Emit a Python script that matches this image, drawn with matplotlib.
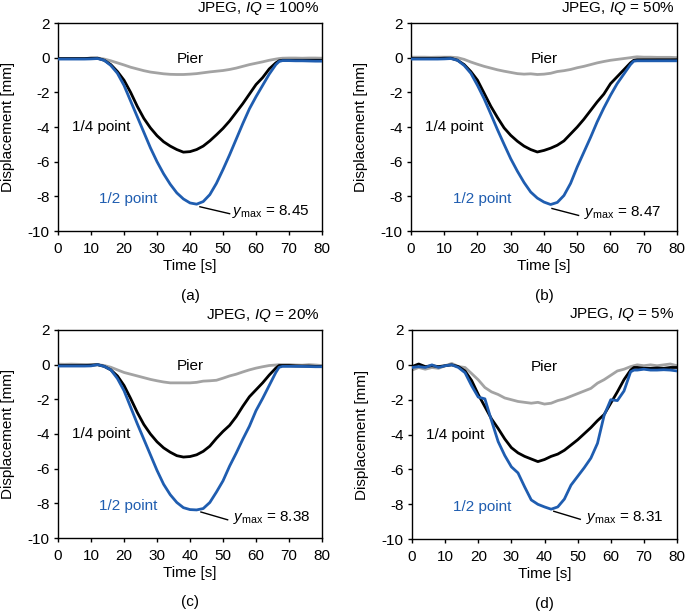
import numpy as np
import matplotlib
matplotlib.use("Agg")
import matplotlib.pyplot as plt

plt.rcParams['font.family'] = ['Liberation Sans', 'DejaVu Sans']
plt.rcParams['mathtext.fontset'] = 'custom'
plt.rcParams['mathtext.rm'] = 'Liberation Sans'
plt.rcParams['mathtext.it'] = 'Liberation Sans:italic'
plt.rcParams['font.size'] = 11

# time axis shared by all curves [s]
t = [0, 2, 4, 6, 8, 10, 12, 14, 16, 18, 20, 22, 24, 26, 28, 30, 32, 34, 36, 38, 40,
     42, 44, 46, 48, 50, 52, 54, 56, 58, 60, 62, 64, 66, 67, 68, 70, 72, 74, 76, 78, 80]

# (a) IQ = 100%
pier_a = [-0.05, -0.05, -0.05, -0.05, -0.05, -0.03, -0.02, -0.08, -0.18, -0.3, -0.42, -0.55,
          -0.65, -0.75, -0.83, -0.88, -0.93, -0.96, -0.97, -0.97, -0.95, -0.92, -0.87, -0.82,
          -0.78, -0.74, -0.68, -0.6, -0.5, -0.4, -0.32, -0.24, -0.15, -0.08, -0.05, -0.03,
          -0.02, -0.02, -0.03, -0.02, -0.02, -0.03]
quarter_a = [-0.05, -0.05, -0.05, -0.05, -0.05, -0.03, -0.03, -0.15, -0.4, -0.8, -1.3, -2.0,
             -2.8, -3.5, -4.05, -4.5, -4.85, -5.1, -5.3, -5.45, -5.42, -5.3, -5.1, -4.8, -4.45,
             -4.08, -3.65, -3.15, -2.65, -2.1, -1.55, -1.15, -0.65, -0.3, -0.18, -0.15, -0.15,
             -0.15, -0.15, -0.15, -0.15, -0.15]
half_a = [-0.08, -0.08, -0.08, -0.08, -0.08, -0.07, -0.05, -0.15, -0.45, -0.9, -1.6, -2.5,
          -3.4, -4.3, -5.2, -6.0, -6.7, -7.3, -7.8, -8.15, -8.38, -8.45, -8.3, -7.9, -7.25,
          -6.45, -5.6, -4.7, -3.8, -2.95, -2.25, -1.6, -0.95, -0.4, -0.22, -0.17, -0.17,
          -0.18, -0.18, -0.19, -0.2, -0.2]

# (b) IQ = 50%
pier_b = [0.03, 0.03, 0.03, 0.02, 0.03, 0.03, 0.03, 0.0, -0.1, -0.25, -0.38, -0.5, -0.6,
          -0.7, -0.78, -0.85, -0.92, -0.95, -0.93, -0.97, -0.95, -0.9, -0.8, -0.75, -0.68,
          -0.58, -0.5, -0.4, -0.3, -0.22, -0.15, -0.1, -0.05, 0.0, 0.03, 0.05, 0.03, 0.03,
          0.02, 0.02, 0.02, 0.0]
quarter_b = [-0.05, -0.05, -0.05, -0.05, -0.05, -0.03, -0.03, -0.15, -0.4, -0.8, -1.3, -2.05,
             -2.8, -3.45, -4.05, -4.48, -4.82, -5.1, -5.3, -5.44, -5.35, -5.22, -5.05, -4.8,
             -4.4, -4.0, -3.55, -3.05, -2.55, -2.1, -1.5, -1.1, -0.7, -0.3, -0.15, -0.12,
             -0.12, -0.12, -0.12, -0.12, -0.12, -0.12]
half_b = [-0.08, -0.08, -0.08, -0.08, -0.08, -0.07, -0.05, -0.15, -0.45, -0.9, -1.6, -2.37,
          -3.25, -4.15, -5.0, -5.83, -6.55, -7.2, -7.75, -8.1, -8.33, -8.47, -8.35, -7.95,
          -7.25, -6.3, -5.45, -4.6, -3.7, -2.9, -2.17, -1.5, -0.95, -0.4, -0.2, -0.18,
          -0.18, -0.18, -0.18, -0.18, -0.18, -0.18]

# (c) IQ = 20%
pier_c = [0.03, 0.02, 0.03, 0.02, 0.01, 0.0, 0.0, -0.05, -0.15, -0.3, -0.45, -0.55, -0.65,
          -0.75, -0.85, -0.93, -1.0, -1.05, -1.05, -1.05, -1.05, -1.02, -0.95, -0.93, -0.9,
          -0.78, -0.65, -0.55, -0.42, -0.3, -0.2, -0.12, -0.05, -0.02, 0.0, 0.0, 0.0, -0.02,
          -0.03, 0.0, -0.02, -0.05]
quarter_c = [-0.05, -0.05, -0.05, -0.05, -0.05, -0.03, 0.0, -0.1, -0.3, -0.65, -1.2, -1.95,
             -2.75, -3.45, -4.0, -4.45, -4.8, -5.05, -5.25, -5.33, -5.3, -5.2, -5.0, -4.7,
             -4.25, -3.85, -3.5, -3.0, -2.4, -1.85, -1.45, -1.05, -0.6, -0.2, -0.05, -0.05,
             -0.05, -0.07, -0.08, -0.08, -0.1, -0.1]
half_c = [-0.08, -0.08, -0.08, -0.08, -0.08, -0.07, 0.0, -0.1, -0.3, -0.8, -1.5, -2.45,
          -3.4, -4.3, -5.2, -6.1, -6.9, -7.5, -7.95, -8.25, -8.36, -8.38, -8.3, -7.95, -7.35,
          -6.7, -5.85, -5.1, -4.3, -3.55, -2.65, -1.95, -1.2, -0.45, -0.15, -0.1, -0.1, -0.1,
          -0.1, -0.11, -0.12, -0.12]

# (d) IQ = 5%
pier_d = [-0.3, -0.15, -0.25, -0.15, -0.2, -0.05, 0.08, -0.1, -0.15, -0.5, -0.86, -1.3, -1.55,
          -1.7, -1.9, -2.0, -2.1, -2.15, -2.2, -2.15, -2.25, -2.2, -2.05, -1.95, -1.8, -1.65,
          -1.5, -1.35, -1.05, -0.85, -0.6, -0.35, -0.25, -0.1, -0.05, 0.0, -0.05, 0.0, -0.05,
          0.0, 0.05, -0.05]
quarter_d = [-0.1, 0.05, -0.1, -0.05, -0.1, -0.05, 0.0, -0.1, -0.35, -0.9, -1.7, -2.4, -3.1,
             -3.65, -4.25, -4.75, -5.05, -5.25, -5.4, -5.55, -5.43, -5.25, -5.12, -4.9, -4.6,
             -4.3, -3.95, -3.6, -3.2, -2.85, -2.2, -1.55, -0.85, -0.3, -0.15, -0.15, -0.2,
             -0.2, -0.18, -0.2, -0.15, -0.15]
half_d = [-0.15, -0.1, -0.15, 0.0, -0.15, -0.05, 0.0, -0.15, -0.45, -1.2, -1.85, -1.95, -3.2,
          -4.4, -5.2, -5.85, -6.2, -7.0, -7.75, -8.0, -8.15, -8.28, -8.15, -7.7, -6.9, -6.4,
          -5.9, -5.35, -4.5, -2.9, -2.0, -2.05, -1.5, -0.4, -0.3, -0.3, -0.25, -0.3, -0.3,
          -0.28, -0.3, -0.35]

iq_labels = ['100%', '50%', '20%', '5%']
ymax_vals = ['8.45', '8.47', '8.38', '8.31']
captions = ['(a)', '(b)', '(c)', '(d)']

piers = [pier_a, pier_b, pier_c, pier_d]
quarters = [quarter_a, quarter_b, quarter_c, quarter_d]
halves = [half_a, half_b, half_c, half_d]

# annotation leader line (start x,y, end x,y) and text position per panel
leader = [(43, -8.6, 52, -9.0), (42.4, -8.7, 50.4, -9.1),
          (43.3, -8.5, 51.4, -8.95), (42.8, -8.4, 50.8, -8.86)]
ytext = [(52.8, -9.1), (51.9, -9.15), (52.9, -9.0), (52.5, -8.95)]

blue = '#1f5db0'
gray = '#a3a3a3'

fig = plt.figure(figsize=(6.85, 6.12), dpi=100)
rects = [[0.0847, 0.6225, 0.3854, 0.3399], [0.600, 0.6225, 0.3883, 0.3399],
         [0.0847, 0.1209, 0.3854, 0.3399], [0.6015, 0.1190, 0.3868, 0.3418]]

for i in range(4):
    ax = fig.add_axes(rects[i])
    ax.plot(t, piers[i], color=gray, lw=2.0, zorder=2)
    ax.plot(t, quarters[i], color='black', lw=2.0, zorder=3)
    ax.plot(t, halves[i], color=blue, lw=2.0, zorder=4)

    ax.set_xlim(0, 80)
    ax.set_ylim(-10, 2)
    ax.set_xticks(np.arange(0, 81, 10))
    ax.set_yticks(np.arange(-10, 3, 2))
    ax.set_yticklabels([str(v) for v in range(-10, 3, 2)])
    ax.tick_params(direction='out', length=3, width=1, labelsize=11)
    ax.tick_params(axis='x', pad=5)
    ax.tick_params(axis='y', pad=3)
    for s in ax.spines.values():
        s.set_linewidth(1.0)

    ax.set_xlabel('Time [s]', fontsize=11, labelpad=2)
    ax.set_ylabel('Displacement [mm]', fontsize=11, labelpad=9)

    ax.text(40, -0.33, 'Pier', ha='center', va='baseline', fontsize=11)
    ax.text(4.2, -4.25, '1/4 point', ha='left', va='baseline', fontsize=11)
    ax.text(12.5, -8.4, '1/2 point', ha='left', va='baseline', fontsize=11, color=blue)

    x0, y0, x1, y1 = leader[i]
    ax.plot([x0, x1], [y0, y1], color='black', lw=1.0)
    ax.text(ytext[i][0], ytext[i][1], r'$y_{\mathrm{max}}$ = ' + ymax_vals[i],
            ha='left', va='baseline', fontsize=11)

    ax.text(0.99, 1.072, r'JPEG, $\mathit{IQ}$ = ' + iq_labels[i], transform=ax.transAxes,
            ha='right', va='center', fontsize=11)
    ax.text(0.5, -0.31, captions[i], transform=ax.transAxes,
            ha='center', va='center', fontsize=11)

fig.savefig('out.png', dpi=100)
